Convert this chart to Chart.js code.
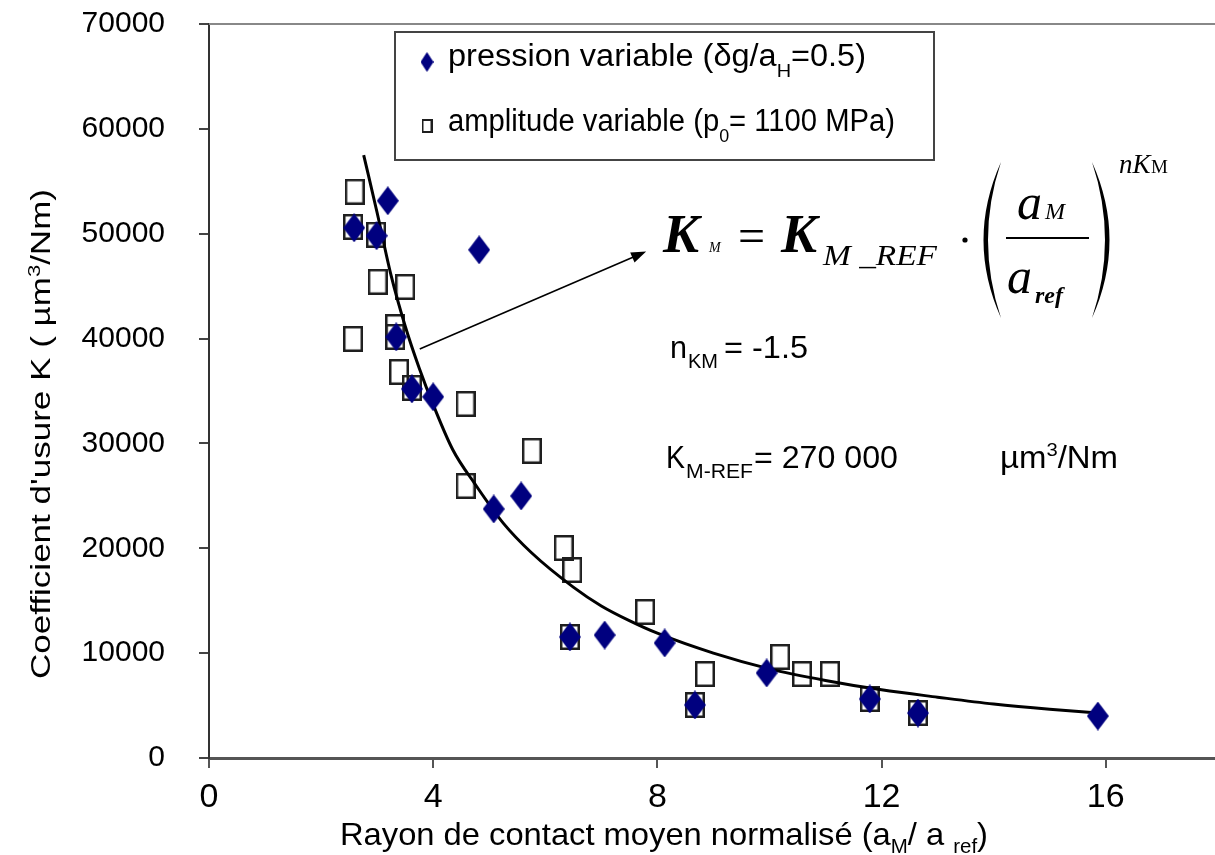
<!DOCTYPE html>
<html><head><meta charset="utf-8">
<script src="https://cdn.jsdelivr.net/npm/chart.js@4.4.0/dist/chart.umd.min.js"></script>
<style>html,body{margin:0;padding:0;background:#fff;overflow:hidden}#wrap{width:1215px;height:855px}</style>
</head><body><div id="wrap"><canvas id="c" width="1215" height="855"></canvas></div>
<script>
// ---- data ----
const pressionX = [2.59, 3.19, 2.99, 4.82, 3.34, 3.62, 4.00, 5.57, 5.08, 6.44, 7.06, 8.13, 8.67, 9.95, 11.79, 12.65, 15.86];
const pressionY = [50560, 53140, 49800, 48460, 40160, 35200, 34440, 24990, 23750, 11540, 11730, 10970, 5060, 8110, 5630, 4290, 4000];
const amplitudeX = [2.60, 2.57, 2.98, 3.01, 3.50, 2.57, 3.32, 3.32, 3.39, 3.62, 4.58, 5.76, 4.58, 6.33, 6.48, 6.44, 7.78, 8.85, 8.67, 10.19, 10.58, 11.08, 11.79, 12.65];
const amplitudeY = [54000, 50650, 49900, 45410, 44930, 39970, 41100, 40160, 36820, 35300, 33770, 29290, 25950, 20030, 17930, 11540, 13930, 8010, 5060, 9640, 8010, 8010, 5630, 4290];
const fitX = [2.76, 3.0, 3.25, 3.5, 3.75, 4.0, 4.35, 4.75, 5.25, 5.75, 6.5, 7.0, 7.5, 8.0, 9.0, 10.0, 11.0, 12.0, 13.0, 14.0, 15.0, 15.86];
const fitY = [57500, 52000, 46000, 41200, 37200, 33700, 29400, 26100, 22400, 19600, 16300, 14500, 13100, 11900, 10000, 8500, 7400, 6500, 5800, 5150, 4650, 4300];
const xTicks = [0, 4, 8, 12, 16];
const yTicks = [0, 10000, 20000, 30000, 40000, 50000, 60000, 70000];
const arrowFrom = [3.76, 39000];
const arrowTo = [7.80, 48300];

const SANS = "'Liberation Sans', Arial, sans-serif";
const SERIF = "'Liberation Serif', 'Times New Roman', serif";
const NAVY = '#00007f';

function makeDiamond(w, h) {
  const c = document.createElement('canvas'); c.width = w; c.height = h;
  const g = c.getContext('2d');
  g.fillStyle = NAVY; g.beginPath();
  g.moveTo(w / 2, 0); g.lineTo(w, h / 2); g.lineTo(w / 2, h); g.lineTo(0, h / 2); g.closePath(); g.fill();
  return c;
}
function makeSquare(w, h, lw) {
  const c = document.createElement('canvas'); c.width = w; c.height = h;
  const g = c.getContext('2d');
  g.strokeStyle = '#1e1e1e'; g.lineWidth = lw;
  g.strokeRect(lw / 2, lw / 2, w - lw, h - lw);
  return c;
}
const diamondImg = makeDiamond(22, 29);
const squareImg = makeSquare(20, 26, 2.5);
const diamondLeg = makeDiamond(13, 20);
const squareLeg = makeSquare(11, 14, 2);

function drawRich(ctx, segs, x, y, targetW) {
  let w = 0;
  segs.forEach(s => { ctx.font = s.font; s.w = ctx.measureText(s.t).width; w += s.w; });
  const k = targetW ? targetW / w : 1;
  ctx.save(); ctx.translate(x, y); ctx.scale(k, 1);
  let cx = 0;
  segs.forEach(s => { ctx.font = s.font; ctx.fillText(s.t, cx, s.dy || 0); cx += s.w; });
  ctx.restore();
}

const decor = {
  id: 'decor',
  afterDraw(chart) {
    const ctx = chart.ctx, a = chart.chartArea, xs = chart.scales.x, ys = chart.scales.y;
    ctx.save();
    ctx.fillStyle = '#000'; ctx.textBaseline = 'alphabetic'; ctx.textAlign = 'left';
    // top frame line
    ctx.strokeStyle = '#888'; ctx.lineWidth = 2;
    ctx.beginPath(); ctx.moveTo(a.left, a.top); ctx.lineTo(chart.width, a.top); ctx.stroke();

    // legend box
    ctx.strokeStyle = '#444'; ctx.lineWidth = 2;
    ctx.strokeRect(395, 32, 539, 128);
    ctx.drawImage(diamondLeg, 427 - 6.5, 62 - 10);
    ctx.drawImage(squareLeg, 427 - 5.5, 126 - 7);
    const f31 = '31px ' + SANS, f19 = '19px ' + SANS;
    drawRich(ctx, [{t: 'pression variable (δg/a', font: f31}, {t: 'H', font: f19, dy: 11}, {t: '=0.5)', font: f31}], 448, 66, 418);
    drawRich(ctx, [{t: 'amplitude variable (p', font: f31}, {t: '0', font: f19, dy: 11}, {t: '= 1100 MPa)', font: f31}], 448, 131, 447);

    // arrow
    const x1 = xs.getPixelForValue(arrowFrom[0]), y1 = ys.getPixelForValue(arrowFrom[1]);
    const x2 = xs.getPixelForValue(arrowTo[0]), y2 = ys.getPixelForValue(arrowTo[1]);
    const ang = Math.atan2(y2 - y1, x2 - x1);
    ctx.strokeStyle = '#000'; ctx.lineWidth = 1.6;
    ctx.beginPath(); ctx.moveTo(x1, y1); ctx.lineTo(x2 - 10 * Math.cos(ang), y2 - 10 * Math.sin(ang)); ctx.stroke();
    ctx.beginPath();
    ctx.moveTo(x2, y2);
    ctx.lineTo(x2 - 15 * Math.cos(ang) + 5.5 * Math.sin(ang), y2 - 15 * Math.sin(ang) - 5.5 * Math.cos(ang));
    ctx.lineTo(x2 - 15 * Math.cos(ang) - 5.5 * Math.sin(ang), y2 - 15 * Math.sin(ang) + 5.5 * Math.cos(ang));
    ctx.closePath(); ctx.fill();

    // formula
    ctx.font = 'italic bold 54px ' + SERIF; ctx.fillText('K', 663, 252);
    ctx.font = 'italic 14px ' + SERIF; ctx.fillText('M', 709, 252);
    ctx.font = '48px ' + SERIF; ctx.fillText('=', 738, 252);
    ctx.font = 'italic bold 54px ' + SERIF; ctx.fillText('K', 781, 252);
    drawRich(ctx, [{t: 'M _REF', font: 'italic 30px ' + SERIF}], 823, 265, 114);
    ctx.beginPath(); ctx.arc(965, 240, 2.6, 0, Math.PI * 2); ctx.fill();
    // parentheses
    ctx.beginPath(); ctx.moveTo(1001, 162); ctx.quadraticCurveTo(966, 240, 1001, 318); ctx.quadraticCurveTo(975, 240, 1001, 162); ctx.fill();
    ctx.beginPath(); ctx.moveTo(1092, 162); ctx.quadraticCurveTo(1127, 240, 1092, 318); ctx.quadraticCurveTo(1118, 240, 1092, 162); ctx.fill();
    // fraction
    ctx.font = 'italic 50px ' + SERIF; ctx.fillText('a', 1017, 219);
    ctx.font = 'italic 24px ' + SERIF; ctx.fillText('M', 1045, 219);
    ctx.lineWidth = 2; ctx.beginPath(); ctx.moveTo(1006, 238); ctx.lineTo(1089, 238); ctx.stroke();
    ctx.font = 'italic 50px ' + SERIF; ctx.fillText('a', 1007, 293);
    ctx.font = 'italic bold 24px ' + SERIF; ctx.fillText('ref', 1035, 303);
    // exponent
    ctx.font = 'italic 27px ' + SERIF; ctx.fillText('nK', 1119, 173);
    ctx.font = '19px ' + SERIF; ctx.fillText('M', 1151, 173);

    // parameters
    const f20 = '20px ' + SANS;
    drawRich(ctx, [{t: 'n', font: f31}], 670, 358, 17);
    drawRich(ctx, [{t: 'KM', font: f20}], 688, 368, 30);
    drawRich(ctx, [{t: '= -1.5', font: f31}], 724, 358, 84);
    drawRich(ctx, [{t: 'K', font: f31}], 666, 468, 19);
    drawRich(ctx, [{t: 'M-REF', font: f20}], 686, 478, 67);
    drawRich(ctx, [{t: '= 270 000', font: f31}], 754, 468, 144);
    drawRich(ctx, [{t: 'µm', font: f31}, {t: '3', font: '19px ' + SANS, dy: -12}, {t: '/Nm', font: f31}], 1000, 468, 118);

    // x axis title
    const fx = '32px ' + SANS, fxs = '20px ' + SANS;
    drawRich(ctx, [{t: 'Rayon de contact moyen normalisé (a', font: fx}, {t: 'M', font: fxs, dy: 8},
      {t: '/ a ', font: fx}, {t: 'ref', font: fxs, dy: 8}, {t: ')', font: fx}], 340, 845, 648);
    // y axis title
    ctx.save(); ctx.translate(50, 434); ctx.rotate(-Math.PI / 2);
    drawRich(ctx, [{t: "Coefficient d'usure K ( µm", font: '27px ' + SANS}, {t: '3', font: '17px ' + SANS, dy: -10},
      {t: '/Nm)', font: '27px ' + SANS}], -245, 0, 490);
    ctx.restore();
    ctx.restore();
  }
};

new Chart(document.getElementById('c'), {
  type: 'scatter',
  data: {
    datasets: [
      {label: 'pression variable', data: pressionX.map((x, i) => ({x, y: pressionY[i]})),
       pointStyle: diamondImg, pointRadius: 11, order: 0},
      {label: 'fit', data: fitX.map((x, i) => ({x, y: fitY[i]})), showLine: true, pointRadius: 0,
       borderColor: '#000', borderWidth: 3, tension: 0.4, cubicInterpolationMode: 'monotone', order: 1},
      {label: 'amplitude variable', data: amplitudeX.map((x, i) => ({x, y: amplitudeY[i]})),
       pointStyle: squareImg, pointRadius: 11, order: 2}
    ]
  },
  options: {
    responsive: false, animation: false, devicePixelRatio: 1, events: [],
    layout: {padding: {top: 24, right: 0, left: 0, bottom: 0}, autoPadding: false},
    plugins: {legend: {display: false}, tooltip: {enabled: false}},
    scales: {
      x: {
        type: 'linear', min: 0, max: 17.95,
        afterBuildTicks: s => { s.ticks = xTicks.map(v => ({value: v})); },
        afterFit: s => { s.height = 97; s.paddingLeft = 0; s.paddingRight = 0; },
        ticks: {color: '#000', font: {family: SANS, size: 34}, padding: 9, callback: v => String(v), maxRotation: 0},
        grid: {drawOnChartArea: false, drawTicks: true, tickLength: 10, color: '#555', lineWidth: 2},
        border: {color: '#555', width: 3}
      },
      y: {
        type: 'linear', min: 0, max: 70000,
        afterBuildTicks: s => { s.ticks = yTicks.map(v => ({value: v})); },
        afterFit: s => { s.width = 209; s.paddingTop = 0; s.paddingBottom = 0; },
        ticks: {color: '#000', font: {family: SANS, size: 30}, padding: 34, callback: v => String(v)},
        grid: {drawOnChartArea: false, drawTicks: true, tickLength: 10, color: '#444', lineWidth: 2},
        border: {color: '#333', width: 2}
      }
    }
  },
  plugins: [decor]
});
</script>
</body></html>
